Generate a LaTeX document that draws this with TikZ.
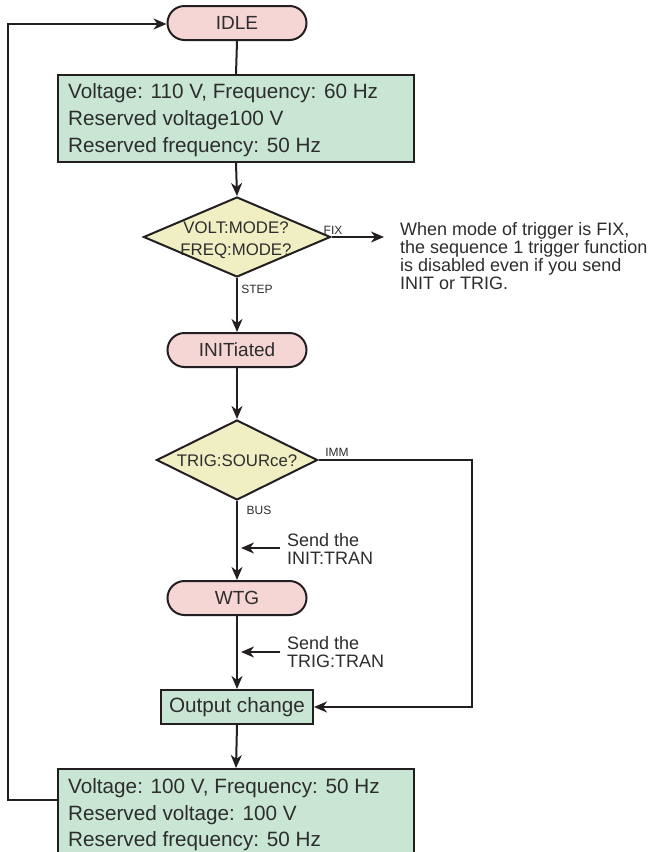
\documentclass[tikz,border=0pt]{standalone}
\usepackage{fontspec}
\setmainfont{Liberation Sans}
\usetikzlibrary{shapes.geometric,shapes.misc,arrows.meta}
\definecolor{pillfill}{RGB}{246,213,213}
\definecolor{boxfill}{RGB}{201,230,213}
\definecolor{diafill}{RGB}{240,239,196}
\definecolor{ink}{RGB}{35,31,32}
\definecolor{txt}{RGB}{45,45,45}
\tikzset{
  pill/.style={draw=ink, line width=2pt, fill=pillfill, rounded rectangle,
    minimum width=139pt, minimum height=34pt, inner sep=0pt, text=txt,
    font=\fontsize{19}{19}\selectfont},
  statebox/.style={draw=ink, line width=2pt, fill=boxfill, inner sep=0pt, text=txt},
  boxtext/.style={anchor=west, text=txt, font=\fontsize{20.7}{20.7}\selectfont, inner sep=0pt},
  decision/.style={draw=ink, line width=2pt, fill=diafill, diamond, inner sep=0pt},
  dtext/.style={text=txt, font=\fontsize{16.8}{22}\selectfont, align=center, inner sep=0pt},
  small/.style={text=txt, font=\fontsize{12}{12}\selectfont, inner sep=0pt},
  note/.style={text=txt, font=\fontsize{18}{18}\selectfont, align=left, inner sep=0pt, anchor=west},
  flow/.style={draw=ink, line width=2pt, -{Stealth[length=13pt,width=11pt,inset=4pt]}},
  plain/.style={draw=ink, line width=2pt},
}
\begin{document}
\begin{tikzpicture}[x=1pt,y=-1pt]
\useasboundingbox (0,0) rectangle (670,852);
\fill[white] (0,0) rectangle (670,852);

% IDLE
\node[pill] (idle) at (237,23) {IDLE};
% box 1
\node[statebox, minimum width=356pt, minimum height=87pt] (b1) at (236,118.5) {};
\node[boxtext] (b1l1) at (68,93) {Voltage: 110 V, Frequency: 60 Hz};
\node[boxtext] (b1l2) at (68,120) {Reserved voltage100 V};
\node[boxtext] (b1l3) at (68,147) {Reserved frequency: 50 Hz};
% decision 1
\node[decision, minimum width=187pt, minimum height=80pt] (d1) at (237,237) {};
\node[dtext] (d1t) at (236,240) {VOLT:MODE?\\FREQ:MODE?};
\node[small] (fix) at (333,230) {FIX};
\node[small] (step) at (257,289) {STEP};
\coordinate (fixend) at (384,237);
\node[note, anchor=north west] (fixnote) at (400,222) {When mode of trigger is FIX,\\the sequence 1 trigger function\\is disabled even if you send\\INIT or TRIG.};
% INITiated
\node[pill] (init) at (237,350) {INITiated};
% decision 2
\node[decision, minimum width=161pt, minimum height=80pt] (d2) at (237,460) {};
\node[dtext] (d2t) at (237,461) {TRIG:SOURce?};
\node[small] (imm) at (337,452) {IMM};
\node[small] (bus) at (259,510) {BUS};
% INIT:TRAN
\coordinate (a1s) at (280,548);
\coordinate (a1e) at (241,548);
\node[note] (s1) at (287,549) {Send the\\INIT:TRAN};
% WTG
\node[pill] (wtg) at (237,598) {WTG};
% TRIG:TRAN
\coordinate (a2s) at (280,652);
\coordinate (a2e) at (241,652);
\node[note] (s2) at (287,652) {Send the\\TRIG:TRAN};
% Output change
\node[statebox, minimum width=152pt, minimum height=34pt, font=\fontsize{20.7}{20.7}\selectfont] (out) at (237,707) {Output change};
% box 2
\node[statebox, minimum width=356pt, minimum height=84pt] (b2) at (236,811) {};
\node[boxtext] (b2l1) at (68,788) {Voltage: 100 V, Frequency: 50 Hz};
\node[boxtext] (b2l2) at (68,815) {Reserved voltage: 100 V};
\node[boxtext] (b2l3) at (68,841) {Reserved frequency: 50 Hz};

% connectors
\draw[plain] (idle.south) -- (b1.north);
\draw[flow] (b1.south) -- (d1.north);
\draw[flow] (d1.east) -- (fixend);
\draw[flow] (d1.south) -- (init.north);
\draw[flow] (init.south) -- (d2.north);
\draw[flow] (d2.south) -- (wtg.north);
\draw[flow] (a1s) -- (a1e);
\draw[flow] (wtg.south) -- (out.north);
\draw[flow] (a2s) -- (a2e);
\draw[flow] (d2.east) -- (472,460) -- (472,707) -- (out.east);
\draw[flow] (out.south) -- (b2.north);
\draw[flow] (b2.west |- 0,800) -- (8,800) -- (8,24) -- (idle.west |- 0,24);
\end{tikzpicture}
\end{document}
